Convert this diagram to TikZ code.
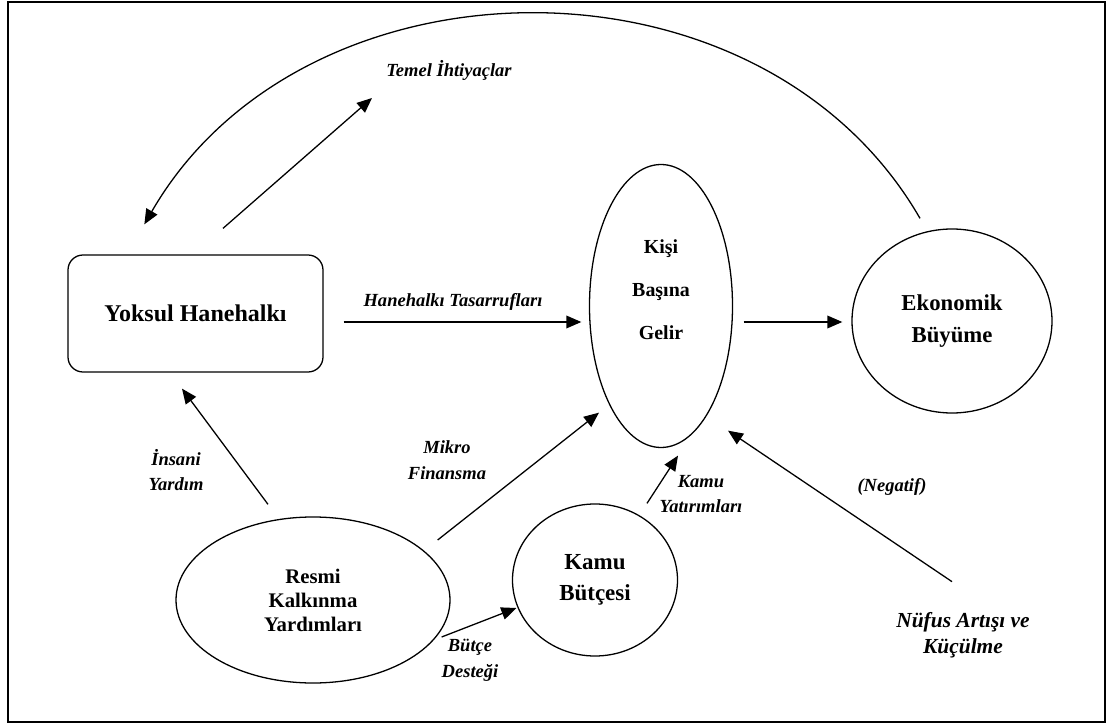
\documentclass[tikz,border=0pt]{standalone}
\usepackage{fontspec}
\setmainfont{Liberation Serif}
\usetikzlibrary{shapes.geometric, arrows.meta}
\tikzset{every picture/.append style={line width=1.1pt}}
\tikzset{
    box/.style={draw, rounded corners=0.45cm, minimum width=7.65cm,
    	minimum height=3.51cm, inner sep=0pt,
    	font=\fontsize{20.5}{24}\selectfont\bfseries},
    blob/.style={ellipse, draw, inner sep=0pt, align=center},
    lbl/.style={inner sep=0pt, align=center,
    	font=\fontsize{15.8}{22}\selectfont\bfseries\itshape},
    flow/.style={-{Triangle[length=0.45cm, width=0.38cm]}}
}

\begin{document}
\begin{tikzpicture}
  \useasboundingbox (0cm, 0cm) rectangle (33.24cm, 21.72cm);
  \draw[line width=1.7pt] (0.24cm, 0.06cm) rectangle (33.15cm, 21.66cm);

  \node (yoksul) [box] at (5.865cm, 12.315cm) {Yoksul Hanehalkı};
  \node (kisi) [blob, minimum width=4.29cm, minimum height=8.49cm,
  	label={[yshift=0.48cm, align=center,
  	font=\fontsize{17}{36.7}\selectfont\bfseries]center:{Kişi\\Başına\\Gelir}}]
  	at (19.83cm, 12.54cm) {};
  \node (eko) [blob, minimum width=6cm, minimum height=5.52cm,
  	font=\fontsize{19.4}{28}\selectfont\bfseries] at (28.56cm, 12.09cm)
  	{Ekonomik\\Büyüme};
  \node (resmi) [blob, minimum width=8.22cm, minimum height=4.98cm,
  	font=\fontsize{17.7}{20.5}\selectfont\bfseries] at (9.39cm, 3.72cm)
  	{Resmi\\Kalkınma\\Yardımları};
  \node (kamu) [blob, minimum width=4.95cm, minimum height=4.56cm,
  	font=\fontsize{19.6}{26.5}\selectfont\bfseries] at (17.85cm, 4.32cm)
  	{Kamu\\Bütçesi};

  \node (temel) [lbl] at (13.47cm, 19.62cm) {Temel İhtiyaçlar};
  \coordinate (temel_tip) at (11.16cm, 18.78cm);
  \node (tasarruf) [lbl] at (13.59cm, 12.66cm) {Hanehalkı Tasarrufları};
  \node (insani) [lbl] at (5.28cm, 7.62cm) {İnsani\\Yardım};
  \node (mikro) [lbl] at (13.41cm, 7.92cm) {Mikro\\Finansma};
  \node (destek) [lbl] at (14.1cm, 1.92cm) {Bütçe\\Desteği};
  \node (yatirim) [lbl] at (21.03cm, 6.9cm) {Kamu\\Yatırımları};
  \node (negatif) [lbl] at (26.76cm, 7.11cm) {(Negatif)};
  \node (nufus) [lbl, font=\fontsize{18.3}{22}\selectfont\bfseries\itshape]
  	at (28.89cm, 2.67cm) {Nüfus Artışı ve\\Küçülme};

  \draw[flow] ([xshift=0.6cm, yshift=-0.255cm]yoksul.east)
  	-- ([xshift=-0.225cm, yshift=-0.48cm]kisi.west);
  \draw[flow] ([xshift=0.315cm, yshift=-0.48cm]kisi.east)
  	-- ([xshift=-0.27cm, yshift=-0.03cm]eko.west);
  \draw[flow] ([xshift=0.825cm, yshift=0.78cm]yoksul.north) -- (temel_tip);
  \draw[flow] ([xshift=-0.96cm, yshift=0.3cm]eko.north)
  	to[out=120, in=60, looseness=1.05]
  	([xshift=2.31cm, yshift=0.9cm]yoksul.north west);
  \draw[flow] ([xshift=-1.35cm, yshift=0.36cm]resmi.north)
  	-- ([xshift=-0.405cm, yshift=-0.48cm]yoksul.south);
  \draw[flow] ([xshift=-0.39cm, yshift=1.8cm]resmi.east)
  	-- ([xshift=-1.86cm, yshift=1.065cm]kisi.south);
  \draw[flow] ([xshift=-0.27cm, yshift=-1.11cm]resmi.east)
  	-- ([xshift=0.135cm, yshift=-0.84cm]kamu.west);
  \draw[flow] ([xshift=1.56cm]kamu.north)
  	-- ([xshift=0.51cm, yshift=-0.225cm]kisi.south);
  \draw[flow] ([xshift=-0.33cm, yshift=0.9cm]nufus.north)
  	-- ([xshift=2.01cm, yshift=0.525cm]kisi.south);
\end{tikzpicture}
\end{document}
